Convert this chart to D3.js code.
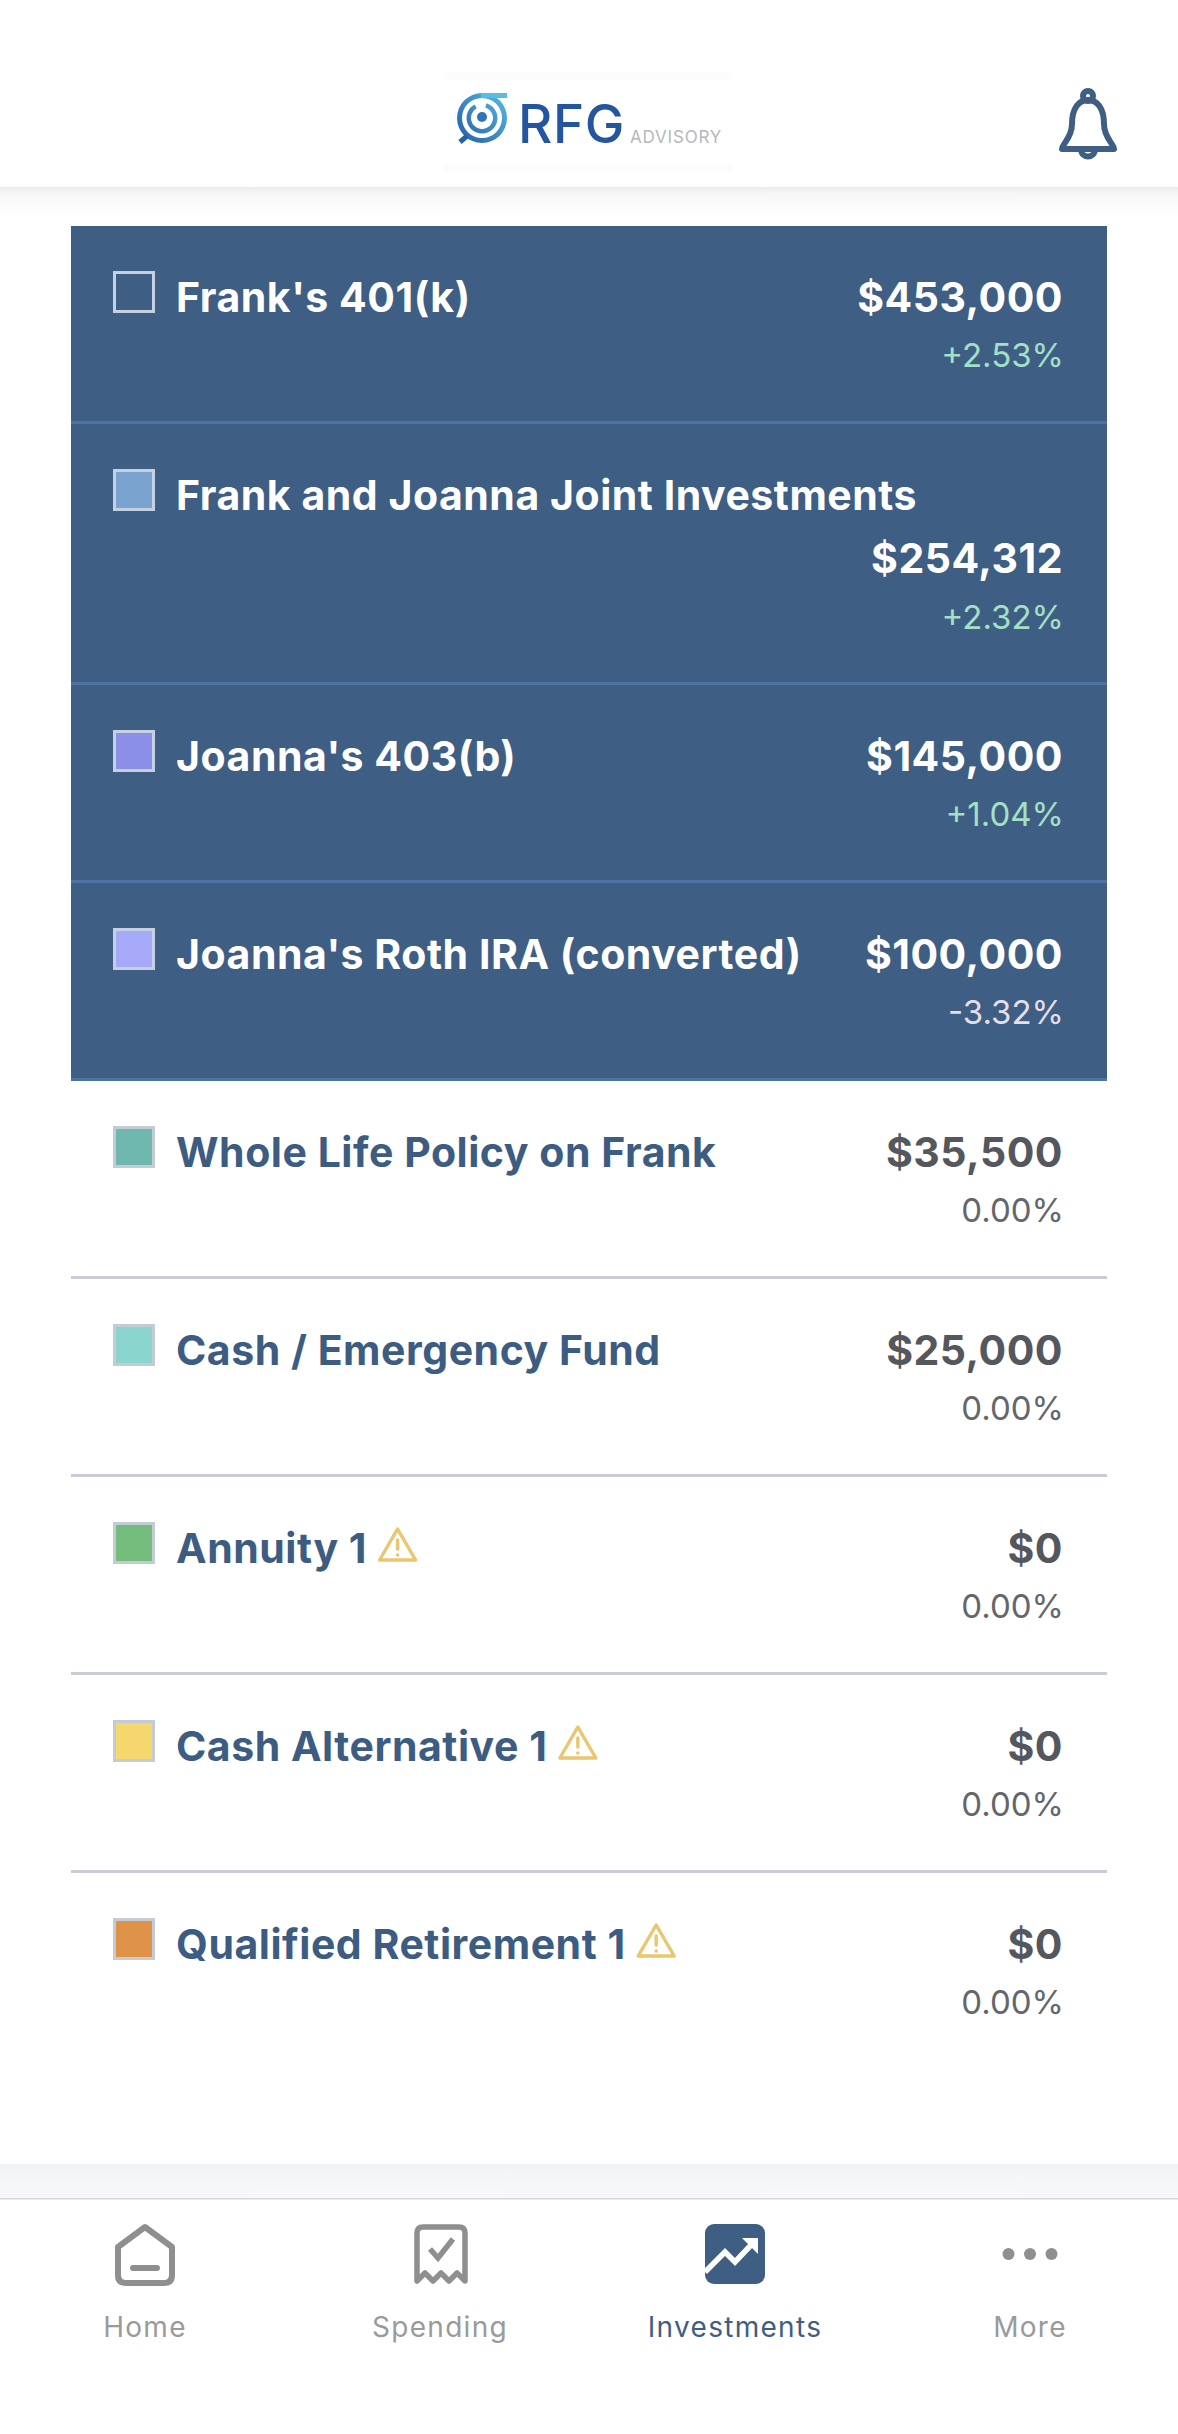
<!DOCTYPE html>
<html>
<head>
<meta charset="utf-8">
<script src="https://cdn.jsdelivr.net/npm/d3@7"></script>
<style>
  html, body { margin: 0; padding: 0; background: #fff; }
  svg { display: block; }
  text { font-family: Inter, "Noto Sans", sans-serif; }
</style>
</head>
<body>
<svg id="chart" width="1178" height="2434"></svg>
<script>
// values
const accounts = ["Frank's 401(k)", "Frank and Joanna Joint Investments", "Joanna's 403(b)",
    "Joanna's Roth IRA (converted)", "Whole Life Policy on Frank", "Cash / Emergency Fund",
    "Annuity 1", "Cash Alternative 1", "Qualified Retirement 1"];
const balances = [453000, 254312, 145000, 100000, 35500, 25000, 0, 0, 0];
const changes = [2.53, 2.32, 1.04, -3.32, 0, 0, 0, 0, 0];
const swatches = ["#ffffff00", "#7ba3cf", "#8b8fe8", "#a6a8f8", "#6fb8ae", "#8ad6cf", "#74bc7c", "#f5d76e", "#de9349"];
const tabs = ["Home", "Spending", "Investments", "More"];

const selectedCount = 4;
const missing = d => d >= 6;         // accounts with the warning triangle
const wrapped = d => d === 1;        // balance goes on its own line

const money = d3.format("$,");
const pct = v => (v > 0 ? "+" : v < 0 ? "-" : "") + d3.format(".2f")(Math.abs(v)) + "%";

const svg = d3.select("#chart");
const defs = svg.append("defs");

const shadow = defs.append("linearGradient").attr("id", "shade").attr("x2", 0).attr("y2", 1);
shadow.append("stop").attr("offset", 0).attr("stop-color", "#ececec");
shadow.append("stop").attr("offset", 0.25).attr("stop-color", "#f7f7f7");
shadow.append("stop").attr("offset", 1).attr("stop-color", "#ffffff");

const band = defs.append("linearGradient").attr("id", "band").attr("x2", 0).attr("y2", 1);
band.append("stop").attr("offset", 0).attr("stop-color", "#f1f2f4");
band.append("stop").attr("offset", 0.5).attr("stop-color", "#f6f7f8");
band.append("stop").attr("offset", 1).attr("stop-color", "#f7f8f9");

const logoGrad = defs.append("linearGradient").attr("id", "logoGrad")
    .attr("gradientUnits", "userSpaceOnUse")
    .attr("x1", -25).attr("y1", 20).attr("x2", 25).attr("y2", -25);
logoGrad.append("stop").attr("offset", 0).attr("stop-color", "#2a5fa8");
logoGrad.append("stop").attr("offset", 1).attr("stop-color", "#55bce6");

// ---- header ----
svg.append("rect").attr("x", 0).attr("y", 187).attr("width", 1178).attr("height", 30).attr("fill", "url(#shade)");
svg.append("rect").attr("x", 444).attr("y", 72).attr("width", 288).attr("height", 8).attr("fill", "#fcfcfc");
svg.append("rect").attr("x", 444).attr("y", 164).attr("width", 288).attr("height", 8).attr("fill", "#fcfcfc");

const logo = svg.append("g").attr("transform", "translate(482,118)");
const arc = d3.arc();
const ring = (r0, r1, a0, a1) => arc({innerRadius: r0, outerRadius: r1, startAngle: a0, endAngle: a1});
logo.append("path").attr("d", ring(20, 25, 0, 2 * Math.PI)).attr("fill", "url(#logoGrad)");
logo.append("path").attr("d", ring(11, 15.5, 0.3, 2 * Math.PI - 0.5)).attr("fill", "url(#logoGrad)");
logo.append("circle").attr("r", 5).attr("cx", 0).attr("cy", -1).attr("fill", "#2f74b8");
logo.append("rect").attr("x", -1).attr("y", -25).attr("width", 26).attr("height", 5).attr("fill", "#55bce6");
logo.append("line").attr("x1", -15).attr("y1", 18).attr("x2", -22).attr("y2", 24)
    .attr("stroke", "#2a5fa8").attr("stroke-width", 5);

svg.append("text").attr("x", 518).attr("y", 143).attr("font-size", 53).attr("font-weight", 500)
    .attr("letter-spacing", 0.6).attr("fill", "#24559f").text("RFG");
svg.append("text").attr("x", 630).attr("y", 143).attr("font-size", 17).attr("font-weight", 400)
    .attr("letter-spacing", 0.8).attr("fill", "#b5b8bb").text("ADVISORY");

// bell
const bell = svg.append("g").attr("transform", "translate(1088,122)")
    .attr("fill", "none").attr("stroke", "#3e5e83").attr("stroke-width", 6).attr("stroke-linejoin", "round");
bell.append("path").attr("d", "M-26,27 C-26,22 -16,16 -16,2 C-16,-14 -9,-22 0,-22 C9,-22 16,-14 16,2 C16,16 26,22 26,27 Z");
bell.append("circle").attr("cy", -26).attr("r", 5);
bell.append("path").attr("d", "M-7,27 C-7,37 7,37 7,27");

// ---- account rows ----
const rowHeights = accounts.map((d, i) => wrapped(i) ? 261 : 198);
const rowTops = d3.cumsum([0].concat(rowHeights)).map(v => v + 226);
const rowX = d3.scaleLinear().domain([0, 1]).range([71, 1107]);

svg.append("rect").attr("x", rowX(0)).attr("y", rowTops[0])
    .attr("width", rowX(1) - rowX(0)).attr("height", rowTops[selectedCount] - rowTops[0])
    .attr("fill", "#3e5e83");

const rows = svg.selectAll("g.row").data(accounts).join("g")
    .attr("class", "row")
    .attr("transform", (d, i) => `translate(0,${rowTops[i]})`);

rows.filter((d, i) => i < accounts.length - 1).append("rect")
    .attr("x", rowX(0)).attr("width", rowX(1) - rowX(0))
    .attr("y", (d, i) => rowHeights[i] - 3).attr("height", 3)
    .attr("fill", (d, i) => i < selectedCount ? "#4d73a3" : "#c9ccd6");

rows.append("rect")
    .attr("x", 114.5).attr("y", 46.5).attr("width", 39).attr("height", 39)
    .attr("fill", (d, i) => swatches[i])
    .attr("stroke", (d, i) => i < selectedCount ? "#c5d1e3" : "#c3ccd5")
    .attr("stroke-width", 3);

rows.append("text").attr("class", "name")
    .attr("x", 176).attr("y", 86)
    .attr("font-size", 41).attr("font-weight", 700).attr("letter-spacing", 0.53)
    .attr("fill", (d, i) => i < selectedCount ? "#ffffff" : "#3d5c82")
    .text(d => d);

rows.append("text")
    .attr("x", 1063).attr("y", (d, i) => wrapped(i) ? 149 : 86)
    .attr("text-anchor", "end")
    .attr("font-size", 41).attr("font-weight", 700).attr("letter-spacing", 0.5)
    .attr("fill", (d, i) => i < selectedCount ? "#ffffff" : "#54575d")
    .text((d, i) => money(balances[i]));

rows.append("text")
    .attr("x", 1064).attr("y", (d, i) => wrapped(i) ? 205 : 141)
    .attr("text-anchor", "end")
    .attr("font-size", 33).attr("font-weight", 400)
    .attr("fill", (d, i) => changes[i] > 0 ? "#a3e0c6" : changes[i] < 0 ? "#e4dfe8" : "#63666b")
    .text((d, i) => pct(changes[i]));

// warning triangles sit right after the name
rows.filter((d, i) => missing(i)).each(function() {
    const row = d3.select(this);
    const end = 176 + row.select("text.name").node().getComputedTextLength();
    const tri = row.append("g").attr("transform", `translate(${end + 30.5},68)`);
    tri.append("path").attr("d", "M0,-16 L18,15 L-18,15 Z")
        .attr("fill", "none").attr("stroke", "#e9c66f").attr("stroke-width", 3.4).attr("stroke-linejoin", "round");
    tri.append("line").attr("y1", -5).attr("y2", 4)
        .attr("stroke", "#e9c66f").attr("stroke-width", 3.4).attr("stroke-linecap", "round");
    tri.append("circle").attr("cy", 10).attr("r", 1.8).attr("fill", "#e9c66f");
});

// ---- tab bar ----
svg.append("rect").attr("x", 0).attr("y", 2164).attr("width", 1178).attr("height", 34).attr("fill", "url(#band)");
svg.append("rect").attr("x", 0).attr("y", 2198).attr("width", 1178).attr("height", 1.5).attr("fill", "#d5d7dc");

const tabX = d3.scalePoint().domain(tabs).range([145, 1030]);
const grey = "#8f8f8f", navy = "#3e5e83";

const tab = svg.selectAll("g.tab").data(tabs).join("g")
    .attr("class", "tab")
    .attr("transform", d => `translate(${tabX(d)},0)`);

tab.append("text")
    .attr("y", 2337).attr("text-anchor", "middle")
    .attr("font-size", 28).attr("letter-spacing", 1.3)
    .attr("fill", d => d === "Investments" ? navy : "#9a9a9a")
    .text(d => d);

const home = svg.append("g").attr("transform", `translate(${tabX("Home")},2255)`);
home.append("path").attr("d", "M0,-28 L27,-8 L27,20 Q27,28 19,28 L-19,28 Q-27,28 -27,20 L-27,-8 Z")
    .attr("fill", "none").attr("stroke", grey).attr("stroke-width", 6).attr("stroke-linejoin", "round");
home.append("rect").attr("x", -15).attr("y", 10).attr("width", 30).attr("height", 6).attr("rx", 3).attr("fill", grey);

const receipt = svg.append("g").attr("transform", `translate(${tabX("Spending") + 1},2254)`);
receipt.append("path")
    .attr("d", "M-24,27 L-24,-21 Q-24,-27 -18,-27 L18,-27 Q24,-27 24,-21 L24,27 L16,19 L8,27 L0,19 L-8,27 L-16,19 Z")
    .attr("fill", "none").attr("stroke", grey).attr("stroke-width", 5.5).attr("stroke-linejoin", "round");
receipt.append("path").attr("d", "M-11,-5 L-3,4 L12,-15")
    .attr("fill", "none").attr("stroke", grey).attr("stroke-width", 5.5);

const invest = svg.append("g").attr("transform", `translate(${tabX("Investments")},2254)`);
invest.append("rect").attr("x", -30).attr("y", -30).attr("width", 60).attr("height", 60).attr("rx", 9).attr("fill", navy);
invest.append("path").attr("d", "M-30,18 L-10,-2 L0,8 L17,-10")
    .attr("fill", "none").attr("stroke", "#fff").attr("stroke-width", 5.5);
invest.append("path").attr("d", "M7,-16 L23,-16 L23,0 Z").attr("fill", "#fff");

const dots = svg.append("g").attr("transform", `translate(${tabX("More")},2254)`);
dots.selectAll("circle").data([-1, 0, 1]).join("circle")
    .attr("cx", d => d * 21.5).attr("r", 6).attr("fill", grey);
</script>
</body>
</html>
